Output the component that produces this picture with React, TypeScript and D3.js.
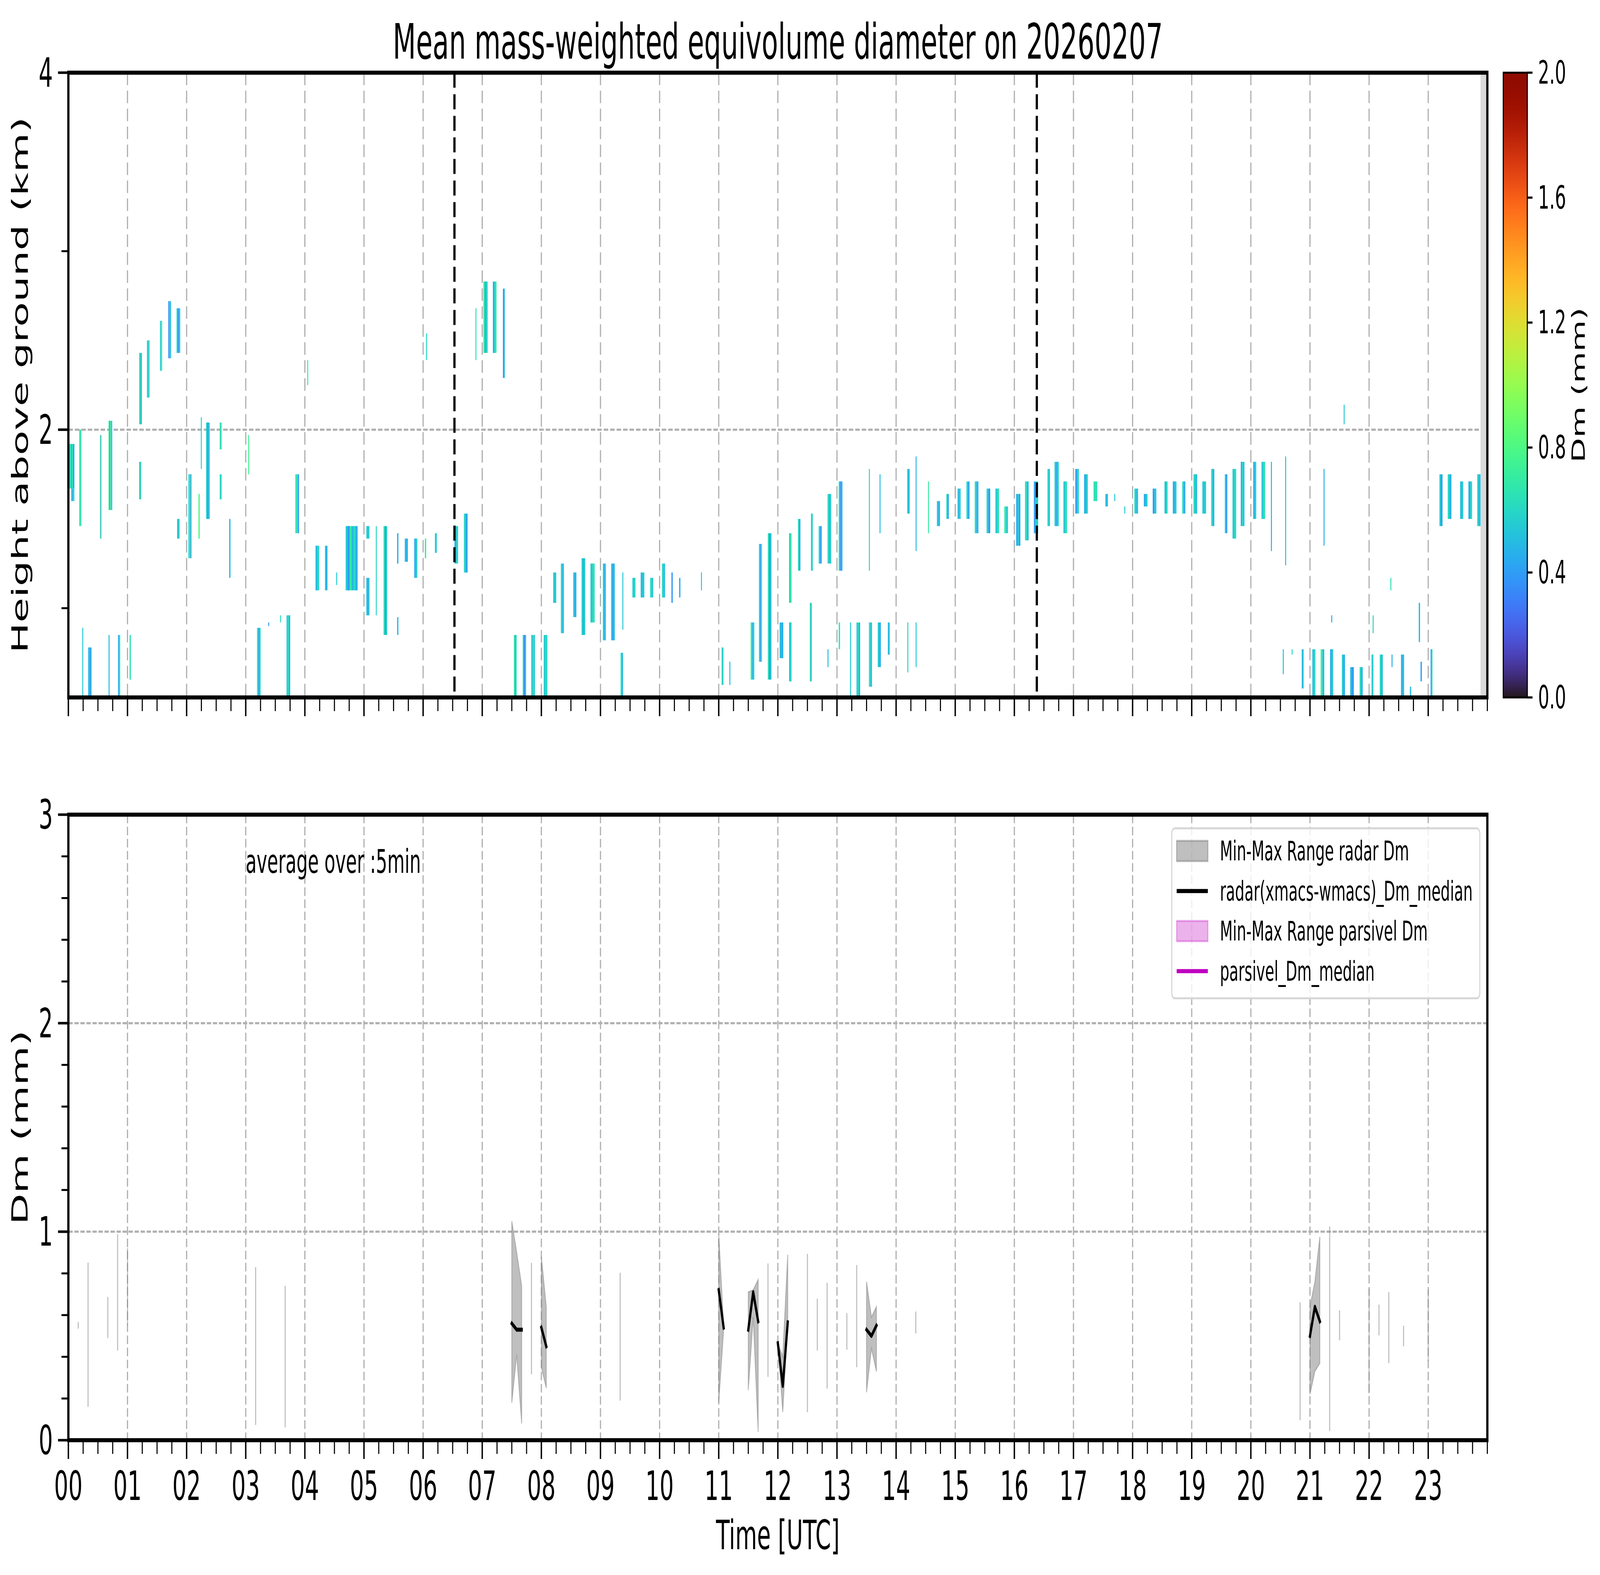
import React, { useEffect } from "react";
import * as d3 from "d3";

type Echo = [number, number, number, number, number[]];

// radar echo columns: [start h, end h, base km, top km, Dm of each stripe]
const echoNight: Echo[] = [
  [0.02, 0.1, 1.67, 1.92, [0.7, 0.5, 0.62, 0.4]],
  [0.05, 0.1, 1.6, 1.67, [0.45, 0.6]],
  [0.185, 0.217, 1.46, 2.0, [0.6, 0.72]],
  [0.235, 0.245, 0.5, 0.89, [0.55]],
  [0.335, 0.39, 0.5, 0.78, [0.45, 0.6, 0.4, 0.5]],
  [0.535, 0.555, 1.39, 1.97, [0.8, 0.38]],
  [0.68, 0.74, 1.55, 2.05, [0.65, 0.45, 0.8, 0.5]],
  [0.68, 0.695, 0.5, 0.85, [0.5]],
  [0.84, 0.875, 0.5, 0.85, [0.45, 0.7]],
  [1.035, 1.055, 0.6, 0.85, [0.65]],
  [1.2, 1.24, 2.03, 2.43, [0.45, 0.7, 0.4]],
  [1.2, 1.23, 1.61, 1.82, [0.4, 0.7]],
  [1.33, 1.37, 2.18, 2.5, [0.45, 0.65, 0.5]],
  [1.55, 1.585, 2.33, 2.61, [0.55, 0.75]],
  [1.69, 1.735, 2.4, 2.72, [0.35, 0.6, 0.5]],
  [1.83, 1.89, 2.43, 2.68, [0.6, 0.4, 0.55]],
  [1.84, 1.88, 1.39, 1.5, [0.45, 0.6]],
  [2.03, 2.08, 1.28, 1.75, [0.6, 0.75, 0.42]],
  [2.2, 2.22, 1.39, 1.64, [0.8]],
  [2.24, 2.25, 1.78, 2.07, [0.6]],
  [2.33, 2.39, 1.5, 2.04, [0.55, 0.42, 0.6]],
  [2.56, 2.59, 1.89, 2.04, [0.65]],
  [2.56, 2.59, 1.61, 1.75, [0.6]],
  [2.72, 2.74, 1.17, 1.5, [0.5]],
  [3.04, 3.05, 1.75, 1.97, [0.75]],
  [3.19, 3.25, 0.5, 0.89, [0.7, 0.45, 0.6]],
  [3.38, 3.39, 0.9, 0.92, [0.4]],
  [3.58, 3.59, 0.92, 0.96, [0.65]],
  [3.69, 3.75, 0.5, 0.96, [0.55, 0.62, 0.45]],
  [3.84, 3.9, 1.42, 1.75, [0.62, 0.7, 0.4]],
  [4.04, 4.05, 2.25, 2.39, [0.7]],
  [4.18, 4.24, 1.1, 1.35, [0.5, 0.6]],
  [4.34, 4.38, 1.1, 1.35, [0.55, 0.45]],
  [4.53, 4.54, 1.13, 1.2, [0.55]],
  [4.69, 4.89, 1.1, 1.46, [0.55, 0.4, 0.7, 0.5, 0.6, 0.45]],
  [5.04, 5.09, 1.39, 1.46, [0.55]],
  [5.04, 5.09, 0.96, 1.17, [0.5]],
  [5.2, 5.21, 0.96, 1.46, [0.6]],
  [5.33, 5.39, 0.85, 1.46, [0.7, 0.4, 0.55]],
  [5.56, 5.58, 1.25, 1.42, [0.45]],
  [5.56, 5.58, 0.85, 0.95, [0.5]],
  [5.69, 5.74, 1.26, 1.39, [0.5, 0.45]],
  [5.85, 5.9, 1.17, 1.39, [0.45, 0.55]],
  [6.03, 6.05, 1.28, 1.39, [0.7]],
  [6.05, 6.06, 2.39, 2.54, [0.6]],
  [6.2, 6.23, 1.31, 1.42, [0.55]],
];

const echoMorning: Echo[] = [
  [6.53, 6.59, 1.25, 1.46, [0.45, 0.6]],
  [6.69, 6.75, 1.2, 1.53, [0.6, 0.5, 0.4]],
  [6.885, 6.89, 2.39, 2.68, [0.65]],
  [7.02, 7.09, 2.43, 2.83, [0.7, 0.45, 0.6]],
  [7.18, 7.24, 2.43, 2.83, [0.4, 0.6, 0.7]],
  [7.35, 7.38, 2.29, 2.79, [0.35, 0.5]],
  [7.535, 7.58, 0.5, 0.85, [0.7, 0.5, 0.6]],
  [7.685, 7.74, 0.5, 0.85, [0.6, 0.35, 0.55]],
  [7.83, 7.89, 0.5, 0.85, [0.5, 0.65, 0.55]],
  [8.04, 8.1, 0.5, 0.85, [0.55, 0.6]],
  [8.2, 8.25, 1.03, 1.2, [0.55]],
  [8.33, 8.38, 0.86, 1.25, [0.6, 0.5, 0.55]],
  [8.54, 8.59, 0.95, 1.2, [0.5, 0.45]],
  [8.68, 8.74, 0.85, 1.28, [0.6, 0.45, 0.55]],
  [8.83, 8.9, 0.92, 1.25, [0.55, 0.65]],
  [9.04, 9.09, 0.82, 1.25, [0.6, 0.45, 0.55]],
  [9.18, 9.24, 0.82, 1.25, [0.55, 0.4, 0.5]],
  [9.37, 9.38, 0.88, 1.2, [0.55]],
  [9.34, 9.38, 0.5, 0.75, [0.65, 0.5]],
  [9.54, 9.59, 1.06, 1.17, [0.55, 0.6]],
  [9.68, 9.74, 1.06, 1.2, [0.5, 0.55]],
  [9.84, 9.89, 1.06, 1.17, [0.6, 0.55]],
  [10.04, 10.09, 1.06, 1.25, [0.6, 0.5]],
  [10.2, 10.22, 1.03, 1.2, [0.38]],
  [10.33, 10.35, 1.06, 1.17, [0.45]],
  [10.7, 10.71, 1.1, 1.2, [0.55]],
  [11.05, 11.08, 0.57, 0.78, [0.5, 0.7]],
  [11.18, 11.19, 0.57, 0.7, [0.5]],
  [11.54, 11.6, 0.6, 0.92, [0.75, 0.5, 0.6]],
  [11.68, 11.73, 0.7, 1.36, [0.6, 0.4, 0.7]],
  [11.83, 11.89, 0.6, 1.42, [0.65, 0.35, 0.55]],
  [12.03, 12.09, 0.72, 0.92, [0.5, 0.45]],
  [12.19, 12.23, 1.03, 1.42, [0.55, 0.7]],
  [12.19, 12.23, 0.59, 0.92, [0.5, 0.6]],
];

const echoAfternoon: Echo[] = [
  [12.34, 12.38, 1.21, 1.5, [0.6, 0.45]],
  [12.54, 12.57, 0.59, 1.03, [0.7, 0.45]],
  [12.56, 12.59, 1.21, 1.53, [0.55, 0.6]],
  [12.69, 12.74, 1.25, 1.46, [0.6, 0.4]],
  [12.84, 12.9, 1.25, 1.64, [0.65, 0.45, 0.55]],
  [12.84, 12.85, 0.67, 0.77, [0.5]],
  [13.03, 13.09, 1.21, 1.71, [0.6, 0.4, 0.45]],
  [13.03, 13.05, 0.77, 0.92, [0.65]],
  [13.22, 13.235, 0.5, 0.92, [0.55]],
  [13.33, 13.39, 0.5, 0.92, [0.55, 0.62, 0.45]],
  [13.54, 13.55, 1.21, 1.78, [0.6]],
  [13.54, 13.59, 0.56, 0.92, [0.65, 0.5]],
  [13.69, 13.74, 0.67, 0.92, [0.55, 0.45]],
  [13.72, 13.73, 1.42, 1.75, [0.5]],
  [13.86, 13.89, 0.74, 0.92, [0.5]],
  [14.19, 14.23, 1.53, 1.78, [0.45, 0.6]],
  [14.19, 14.2, 0.64, 0.92, [0.6]],
  [14.33, 14.34, 1.32, 1.85, [0.5]],
  [14.33, 14.34, 0.67, 0.92, [0.55]],
  [14.54, 14.55, 1.42, 1.71, [0.7]],
  [14.69, 14.74, 1.46, 1.6, [0.55, 0.45]],
  [14.85, 14.89, 1.5, 1.64, [0.6, 0.45]],
  [15.04, 15.09, 1.5, 1.67, [0.5, 0.55]],
  [15.19, 15.24, 1.5, 1.71, [0.6, 0.45]],
  [15.33, 15.39, 1.42, 1.71, [0.65, 0.5, 0.45]],
  [15.53, 15.59, 1.42, 1.67, [0.6, 0.4]],
  [15.68, 15.74, 1.42, 1.67, [0.55, 0.65]],
  [15.83, 15.89, 1.42, 1.57, [0.7, 0.55]],
  [16.03, 16.1, 1.35, 1.64, [0.45, 0.55, 0.4]],
  [16.18, 16.24, 1.38, 1.71, [0.65, 0.5]],
  [16.33, 16.4, 1.42, 1.71, [0.4, 0.6, 0.55]],
  [16.56, 16.6, 1.46, 1.78, [0.6, 0.5]],
  [16.68, 16.75, 1.46, 1.82, [0.55, 0.45, 0.6]],
  [16.83, 16.89, 1.42, 1.71, [0.55, 0.65]],
  [17.03, 17.09, 1.53, 1.78, [0.4, 0.6]],
  [17.18, 17.24, 1.53, 1.75, [0.45, 0.55]],
  [17.34, 17.4, 1.6, 1.71, [0.65]],
  [17.54, 17.58, 1.57, 1.64, [0.5]],
  [17.69, 17.7, 1.6, 1.64, [0.55]],
  [17.86, 17.87, 1.53, 1.57, [0.55]],
];

const echoEvening: Echo[] = [
  [18.03, 18.09, 1.53, 1.67, [0.6, 0.5]],
  [18.19, 18.25, 1.57, 1.64, [0.45, 0.55]],
  [18.34, 18.4, 1.53, 1.67, [0.4, 0.55]],
  [18.54, 18.59, 1.53, 1.71, [0.5, 0.6]],
  [18.68, 18.74, 1.53, 1.71, [0.45, 0.55]],
  [18.84, 18.89, 1.53, 1.71, [0.6, 0.45]],
  [19.03, 19.09, 1.53, 1.75, [0.6, 0.5]],
  [19.18, 19.24, 1.53, 1.71, [0.55]],
  [19.33, 19.38, 1.46, 1.78, [0.6, 0.45]],
  [19.56, 19.6, 1.42, 1.75, [0.55, 0.4]],
  [19.69, 19.75, 1.39, 1.78, [0.55, 0.62]],
  [19.83, 19.89, 1.46, 1.82, [0.4, 0.6, 0.5]],
  [20.04, 20.09, 1.5, 1.82, [0.45, 0.6]],
  [20.18, 20.24, 1.5, 1.82, [0.55, 0.65]],
  [20.34, 20.35, 1.32, 1.82, [0.45]],
  [20.58, 20.59, 1.24, 1.85, [0.5]],
  [21.23, 21.24, 1.35, 1.78, [0.45]],
  [21.57, 21.575, 2.03, 2.14, [0.55]],
  [22.36, 22.37, 1.1, 1.17, [0.65]],
  [22.84, 22.86, 0.81, 1.03, [0.5]],
  [21.36, 21.37, 0.92, 0.96, [0.45]],
  [22.06, 22.07, 0.86, 0.96, [0.6]],
  [20.54, 20.55, 0.63, 0.77, [0.5]],
  [20.69, 20.7, 0.74, 0.77, [0.6]],
  [20.86, 20.89, 0.55, 0.77, [0.55, 0.45]],
  [21.04, 21.09, 0.5, 0.77, [0.5, 0.6]],
  [21.18, 21.24, 0.5, 0.77, [0.75, 0.5]],
  [21.34, 21.39, 0.5, 0.77, [0.45, 0.55]],
  [21.54, 21.59, 0.5, 0.74, [0.55, 0.45]],
  [21.68, 21.74, 0.5, 0.67, [0.5, 0.4]],
  [21.84, 21.89, 0.5, 0.67, [0.6, 0.45]],
  [22.04, 22.07, 0.5, 0.74, [0.65, 0.5]],
  [22.18, 22.23, 0.5, 0.74, [0.6, 0.5]],
  [22.38, 22.39, 0.67, 0.74, [0.45]],
  [22.54, 22.59, 0.5, 0.74, [0.45, 0.5]],
  [22.69, 22.71, 0.5, 0.56, [0.5]],
  [22.87, 22.89, 0.59, 0.7, [0.4]],
  [23.04, 23.07, 0.5, 0.77, [0.45, 0.6]],
  [23.19, 23.24, 1.46, 1.75, [0.55, 0.4]],
  [23.33, 23.39, 1.5, 1.75, [0.6, 0.45]],
  [23.54, 23.59, 1.5, 1.71, [0.5, 0.55]],
  [23.68, 23.74, 1.5, 1.71, [0.45, 0.6]],
  [23.83, 23.885, 1.46, 1.75, [0.55, 0.5]],
];

// no-data strip at the end of the day (hours)
const noDataSpan = [23.885, 24];
// black dashed markers in the upper panel (hours)
const markerHours = [6.53, 16.38];

// 5-min radar Dm runs: [hour, min, median, max]
const radarRuns: number[][][] = [
  [[7.5, 0.18, 0.56, 1.05], [7.583, 0.41, 0.53, 0.9], [7.667, 0.08, 0.53, 0.74]],
  [[8.0, 0.35, 0.54, 0.88], [8.083, 0.25, 0.45, 0.64]],
  [[11.0, 0.18, 0.72, 0.99], [11.083, 0.53, 0.54, 0.55]],
  [[11.5, 0.24, 0.53, 0.71], [11.583, 0.59, 0.71, 0.72], [11.667, 0.04, 0.57, 0.77]],
  [[12.0, 0.465, 0.465, 0.465], [12.083, 0.135, 0.26, 0.4], [12.167, 0.565, 0.565, 0.89]],
  [[13.5, 0.23, 0.53, 0.76], [13.583, 0.44, 0.5, 0.59], [13.667, 0.33, 0.55, 0.64]],
  [[21.0, 0.22, 0.5, 0.64], [21.083, 0.33, 0.64, 0.76], [21.167, 0.37, 0.57, 0.975]],
];

// isolated 5-min radar samples: [hour, min, max]
const radarSingles = [
  [0.167, 0.535, 0.567], [0.333, 0.16, 0.852], [0.667, 0.49, 0.687], [0.833, 0.43, 0.988],
  [1.0, 0.551, 0.921], [3.167, 0.073, 0.83], [3.667, 0.062, 0.74], [7.833, 0.316, 0.85],
  [9.333, 0.19, 0.803], [11.833, 0.304, 0.848], [12.5, 0.134, 0.894], [12.667, 0.43, 0.679],
  [12.833, 0.248, 0.754], [13.167, 0.434, 0.609], [13.333, 0.35, 0.84], [14.333, 0.512, 0.617],
  [20.833, 0.096, 0.661], [21.333, 0.044, 1.025], [21.5, 0.479, 0.622], [22.0, 0.225, 0.726],
  [22.167, 0.503, 0.65], [22.333, 0.37, 0.71], [22.583, 0.45, 0.549], [23.0, 0.38, 0.722],
];

const heightMajor = [2, 4];
const heightMinor = [1, 3];
const dmMajor = [0, 1, 2, 3];
const dmMinor = [0.2, 0.4, 0.6, 0.8, 1.2, 1.4, 1.6, 1.8, 2.2, 2.4, 2.6, 2.8];
const cbarTicks = [0, 0.4, 0.8, 1.2, 1.6, 2.0];
const hourLabels = d3.range(24).map((h) => String(h).padStart(2, "0"));

const legendItems = [
  { label: "Min-Max Range radar Dm", kind: "patch", color: "gray", alpha: 0.5 },
  { label: "radar(xmacs-wmacs)_Dm_median", kind: "line", color: "black", alpha: 1 },
  { label: "Min-Max Range parsivel Dm", kind: "patch", color: "#bf00bf", alpha: 0.3 },
  { label: "parsivel_Dm_median", kind: "line", color: "#bf00bf", alpha: 1 },
];

// drawing is laid out in the reference's 7442 x 4031 pixel space and fitted to the window
const W = 7442;
const H = 4031;
const L = 318;
const R = 6918;
const TOP = [186, 1785];
const BOT = [2085, 3686];
const CB = [6992, 7104];
const FONT = "DejaVu Sans";
const SPINE = 10.4;

export default function App() {
  useEffect(() => {
    document.body.style.margin = "0";
    document.body.style.overflow = "hidden";
  }, []);

  const x = d3.scaleLinear().domain([0, 24]).range([L, R]);
  const yTop = d3.scaleLinear().domain([0.5, 4]).range([TOP[1], TOP[0]]);
  const yBot = d3.scaleLinear().domain([0, 3]).range([BOT[1], BOT[0]]);
  const yCb = d3.scaleLinear().domain([0, 2]).range([TOP[1], TOP[0]]);
  const color = (v: number) => d3.interpolateTurbo(Math.max(0, Math.min(1, v / 2)));

  const allEchoes = [...echoNight, ...echoMorning, ...echoAfternoon, ...echoEvening];
  const quarters = d3.range(0, 24.001, 0.25).filter((q) => Math.abs(q - Math.round(q)) > 1e-6 || q === 24);
  const hours = d3.range(24);
  const gridHours = d3.range(1, 24);

  const areaGen = d3
    .area<number[]>()
    .x((d) => x(d[0]))
    .y0((d) => yBot(d[1]))
    .y1((d) => yBot(d[3]));
  const medianGen = d3
    .line<number[]>()
    .x((d) => x(d[0]))
    .y((d) => yBot(d[2]));

  const xTicks = (y0: number) => (
    <g>
      {hours.map((h) => (
        <line key={"M" + h} x1={x(h)} x2={x(h)} y1={y0} y2={y0 + 48} stroke="black" strokeWidth={6.5} />
      ))}
      {quarters.map((q) => (
        <line key={"m" + q} x1={x(q)} x2={x(q)} y1={y0} y2={y0 + 35} stroke="black" strokeWidth={5} />
      ))}
    </g>
  );

  const frame = (yr: number[]) => (
    <rect x={L} y={yr[0]} width={R - L} height={yr[1] - yr[0]} fill="none" stroke="black" strokeWidth={SPINE} />
  );

  const gradStops = d3.range(0, 1.0001, 0.02);

  return (
    <svg
      viewBox={`0 0 ${W} ${H}`}
      preserveAspectRatio="none"
      style={{ display: "block", width: "100vw", height: "100vh", background: "white" }}
      fontFamily={FONT}
    >
      <defs>
        <linearGradient id="turbo" x1="0" y1="1" x2="0" y2="0">
          {gradStops.map((t) => (
            <stop key={t} offset={t} stopColor={d3.interpolateTurbo(t)} />
          ))}
        </linearGradient>
        <clipPath id="clipTop">
          <rect x={L} y={TOP[0]} width={R - L} height={TOP[1] - TOP[0]} />
        </clipPath>
        <clipPath id="clipBot">
          <rect x={L} y={BOT[0]} width={R - L} height={BOT[1] - BOT[0]} />
        </clipPath>
      </defs>
      <rect width={W} height={H} fill="white" />

      {/* title */}
      <text x={(L + R) / 2} y={150} fontSize={125} textAnchor="middle">
        Mean mass-weighted equivolume diameter on 20260207
      </text>

      {/* ===== upper panel ===== */}
      <g>
        {gridHours.map((h) => (
          <line key={h} x1={x(h)} x2={x(h)} y1={TOP[0]} y2={TOP[1]} stroke="#b0b0b0" strokeWidth={5.5} strokeDasharray="32,14" />
        ))}
        <line x1={L} x2={R} y1={yTop(2)} y2={yTop(2)} stroke="#b0b0b0" strokeWidth={5.5} strokeDasharray="21,9" />
      </g>
      <g clipPath="url(#clipTop)">
        {allEchoes.map((e, i) => {
          const x0 = x(e[0]);
          const w = Math.max(4, x(e[1]) - x0);
          const sw = w / e[4].length;
          return e[4].map((v, j) => (
            <rect
              key={i + "-" + j}
              x={x0 + j * sw}
              y={yTop(e[3])}
              width={sw + 0.5}
              height={yTop(e[2]) - yTop(e[3])}
              fill={color(v)}
            />
          ));
        })}
        <rect x={x(noDataSpan[0])} y={TOP[0]} width={x(noDataSpan[1]) - x(noDataSpan[0])} height={TOP[1] - TOP[0]} fill="#d9d9d9" />
        {markerHours.map((h) => (
          <line key={h} x1={x(h)} x2={x(h)} y1={TOP[0]} y2={TOP[1]} stroke="black" strokeWidth={10.4} strokeDasharray="38.5,16.7" />
        ))}
      </g>
      {frame(TOP)}
      {xTicks(TOP[1])}
      {heightMajor.map((v) => (
        <g key={v}>
          <line x1={L - 48} x2={L} y1={yTop(v)} y2={yTop(v)} stroke="black" strokeWidth={6.5} />
          <text x={L - 72} y={yTop(v)} fontSize={104} textAnchor="end" dominantBaseline="central">
            {v}
          </text>
        </g>
      ))}
      {heightMinor.map((v) => (
        <line key={v} x1={L - 32} x2={L} y1={yTop(v)} y2={yTop(v)} stroke="black" strokeWidth={5} />
      ))}
      <text transform={`translate(129,${(TOP[0] + TOP[1]) / 2}) rotate(-90)`} fontSize={104} textAnchor="middle">
        Height above ground (km)
      </text>

      {/* colorbar */}
      <rect x={CB[0]} y={TOP[0]} width={CB[1] - CB[0]} height={TOP[1] - TOP[0]} fill="url(#turbo)" stroke="black" strokeWidth={5} />
      {cbarTicks.map((v) => (
        <g key={v}>
          <line x1={CB[1]} x2={CB[1] + 24} y1={yCb(v)} y2={yCb(v)} stroke="black" strokeWidth={5.5} />
          <text x={CB[1] + 50} y={yCb(v)} fontSize={82} dominantBaseline="central">
            {v.toFixed(1)}
          </text>
        </g>
      ))}
      <text transform={`translate(7372,${(TOP[0] + TOP[1]) / 2}) rotate(-90)`} fontSize={83} textAnchor="middle">
        Dm (mm)
      </text>

      {/* ===== lower panel ===== */}
      <g>
        {gridHours.map((h) => (
          <line key={h} x1={x(h)} x2={x(h)} y1={BOT[0]} y2={BOT[1]} stroke="#b0b0b0" strokeWidth={5.5} strokeDasharray="22,9" />
        ))}
        {[1, 2].map((v) => (
          <line key={v} x1={L} x2={R} y1={yBot(v)} y2={yBot(v)} stroke="#b0b0b0" strokeWidth={5.5} strokeDasharray="20,8" />
        ))}
      </g>
      <g clipPath="url(#clipBot)">
        {radarSingles.map((d, i) => (
          <line key={i} x1={x(d[0])} x2={x(d[0])} y1={yBot(d[1])} y2={yBot(d[2])} stroke="gray" strokeOpacity={0.5} strokeWidth={5} />
        ))}
        {radarRuns.map((run, i) => (
          <path key={"a" + i} d={areaGen(run) || ""} fill="gray" fillOpacity={0.5} stroke="gray" strokeOpacity={0.5} strokeWidth={4} />
        ))}
        {radarRuns.map((run, i) => (
          <path key={"l" + i} d={medianGen(run) || ""} fill="none" stroke="black" strokeWidth={10.4} strokeLinejoin="round" strokeLinecap="square" />
        ))}
      </g>
      <text x={x(3)} y={yBot(2.72)} fontSize={83}>
        average over :5min
      </text>

      {/* legend */}
      <g>
        <rect x={5450} y={2120} width={1433} height={435} rx={14} fill="white" fillOpacity={0.8} stroke="#d6d6d6" strokeWidth={5} />
        {legendItems.map((it, i) => {
          const yc = 2178 + i * 102.5;
          return (
            <g key={it.label}>
              {it.kind === "patch" ? (
                <rect x={5473} y={yc - 26} width={145} height={52} fill={it.color} fillOpacity={it.alpha} stroke={it.color} strokeOpacity={it.alpha} strokeWidth={5} />
              ) : (
                <line x1={5473} x2={5618} y1={yc} y2={yc} stroke={it.color} strokeWidth={10.4} />
              )}
              <text x={5674} y={yc} fontSize={69} dominantBaseline="central">
                {it.label}
              </text>
            </g>
          );
        })}
      </g>

      {frame(BOT)}
      {xTicks(BOT[1])}
      {hours.map((h) => (
        <text key={h} x={x(h)} y={3839} fontSize={104} textAnchor="middle">
          {hourLabels[h]}
        </text>
      ))}
      {dmMajor.map((v) => (
        <g key={v}>
          <line x1={L - 48} x2={L} y1={yBot(v)} y2={yBot(v)} stroke="black" strokeWidth={6.5} />
          <text x={L - 72} y={yBot(v)} fontSize={104} textAnchor="end" dominantBaseline="central">
            {v}
          </text>
        </g>
      ))}
      {dmMinor.map((v) => (
        <line key={v} x1={L - 32} x2={L} y1={yBot(v)} y2={yBot(v)} stroke="black" strokeWidth={5} />
      ))}
      <text transform={`translate(129,${(BOT[0] + BOT[1]) / 2}) rotate(-90)`} fontSize={104} textAnchor="middle">
        Dm (mm)
      </text>
      <text x={(L + R) / 2} y={3965} fontSize={104} textAnchor="middle">
        Time [UTC]
      </text>
    </svg>
  );
}
